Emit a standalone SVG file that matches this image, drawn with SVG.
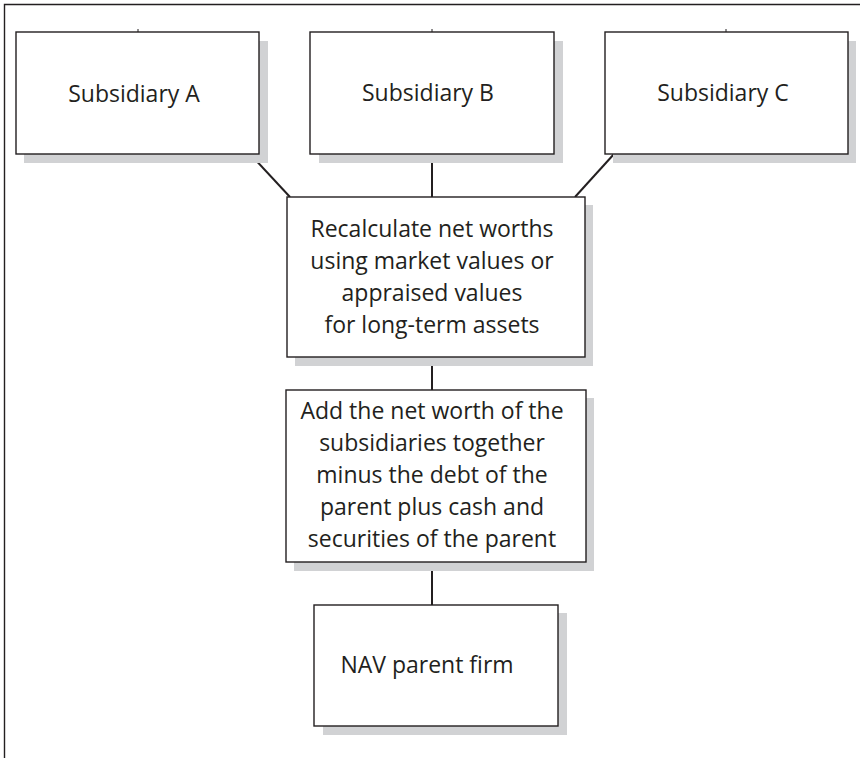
<svg xmlns="http://www.w3.org/2000/svg" width="860" height="758" viewBox="0 0 860 758">
<style>
.shadow{fill:#d1d2d4;stroke:none}
.box{fill:#ffffff;stroke:#231f20;stroke-width:1.4}
.lbl{font-family:"Open Sans","DejaVu Sans",sans-serif;font-size:23px;fill:#231f20;text-anchor:middle}
.conn{stroke:#231f20;stroke-width:2;fill:none}
.tick{stroke:#231f20;stroke-width:1;fill:none}
</style>
<rect x="0" y="0" width="860" height="758" fill="#ffffff"/>
<path d="M4.5,758 V4.5 H860" fill="none" stroke="#231f20" stroke-width="1.4"/>
<g id="connectors">
<line class="conn" x1="250" y1="154" x2="290" y2="197"/>
<line class="conn" x1="432" y1="154" x2="432" y2="197"/>
<line class="conn" x1="614" y1="154" x2="575" y2="197"/>
<line class="conn" x1="432" y1="357" x2="432" y2="390"/>
<line class="conn" x1="432" y1="562" x2="432" y2="605"/>
</g>
<g id="subsidiary-a">
<rect class="shadow" x="24" y="41" width="244" height="122"/>
<line class="tick" x1="138" y1="29" x2="138" y2="32"/>
<rect class="box" x="16" y="32" width="243" height="122"/>
<text class="lbl" x="134" y="102">Subsidiary A</text>
</g>
<g id="subsidiary-b">
<rect class="shadow" x="319" y="41" width="244" height="122"/>
<line class="tick" x1="432" y1="29" x2="432" y2="32"/>
<rect class="box" x="310" y="32" width="244" height="122"/>
<text class="lbl" x="428" y="101">Subsidiary B</text>
</g>
<g id="subsidiary-c">
<rect class="shadow" x="613" y="41" width="243" height="122"/>
<line class="tick" x1="726" y1="29" x2="726" y2="32"/>
<rect class="box" x="605" y="32" width="243" height="122"/>
<text class="lbl" x="723" y="101">Subsidiary C</text>
</g>
<g id="recalculate">
<rect class="shadow" x="295" y="205" width="298" height="161"/>
<rect class="box" x="287" y="197" width="298" height="160"/>
<text class="lbl" x="432" y="237">Recalculate net worths</text>
<text class="lbl" x="432" y="269">using market values or</text>
<text class="lbl" x="432" y="301">appraised values</text>
<text class="lbl" x="432" y="333">for long-term assets</text>
</g>
<g id="add-net-worth">
<rect class="shadow" x="294" y="398" width="300" height="173"/>
<rect class="box" x="286" y="390" width="300" height="172"/>
<text class="lbl" x="432" y="419">Add the net worth of the</text>
<text class="lbl" x="432" y="451">subsidiaries together</text>
<text class="lbl" x="432" y="483">minus the debt of the</text>
<text class="lbl" x="432" y="515">parent plus cash and</text>
<text class="lbl" x="432" y="547">securities of the parent</text>
</g>
<g id="nav-parent">
<rect class="shadow" x="323" y="613" width="244" height="122"/>
<rect class="box" x="314" y="605" width="244" height="121"/>
<text class="lbl" x="427" y="673">NAV parent firm</text>
</g>
</svg>
